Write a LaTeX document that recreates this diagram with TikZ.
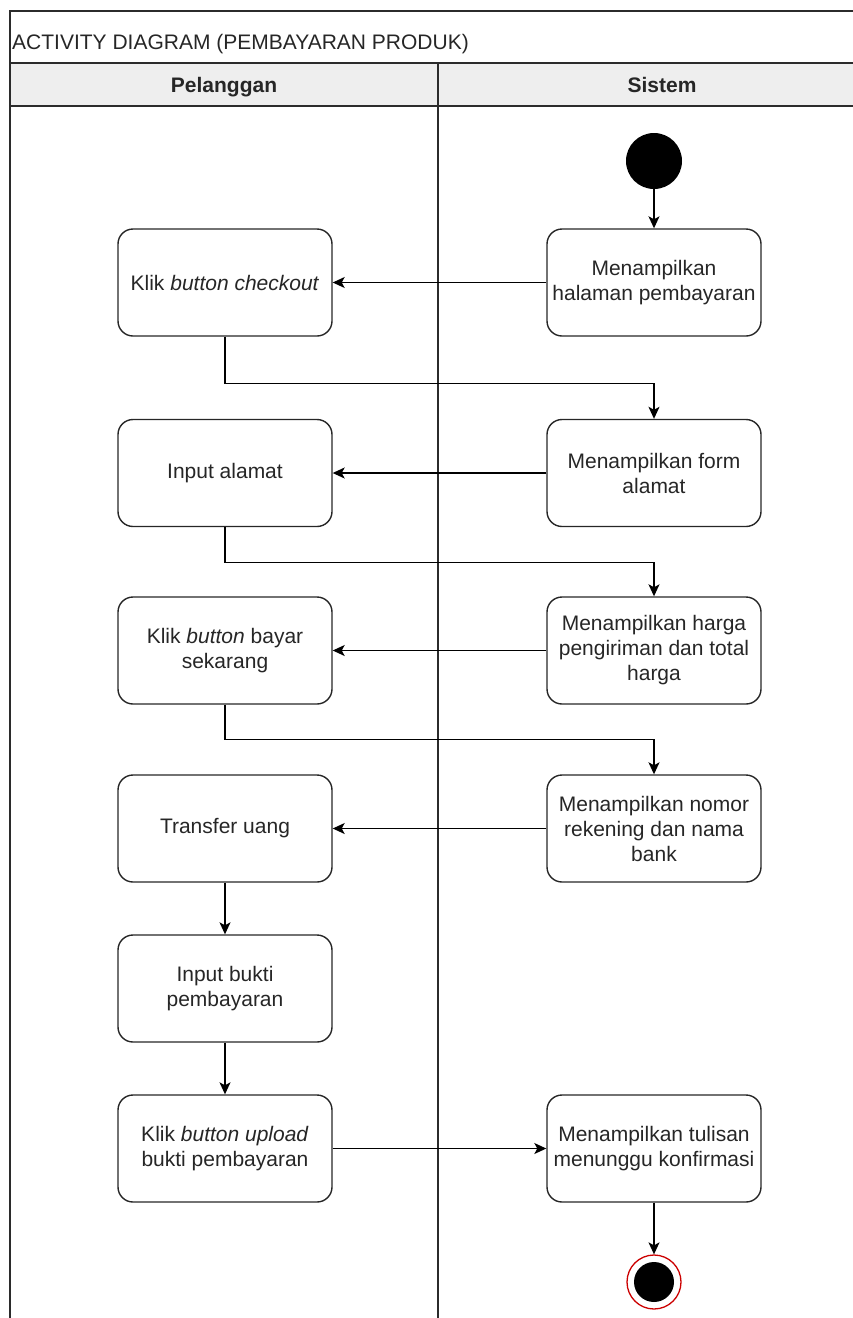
\documentclass[tikz,border=0pt]{standalone}
\usepackage{fontspec}
\setmainfont{Liberation Sans}
\usetikzlibrary{arrows.meta}

\definecolor{laneline}{HTML}{2B2B2B}
\definecolor{headfill}{HTML}{EEEEEE}
\definecolor{endred}{HTML}{CC0000}

\begin{document}
\begin{tikzpicture}[x=1pt,y=-1pt,
    act/.style={draw=black!85, line width=1.4pt, rounded corners=15pt,
      minimum width=214pt, minimum height=107pt, align=center,
      text=black!85, font=\fontsize{21}{25}\selectfont, inner sep=2pt},
    flow/.style={draw=black, line width=1.4pt,
      -{Stealth[length=12pt,width=11pt,inset=3pt]}},
    lanetext/.style={font=\fontsize{21}{25}\selectfont, text=black!85},
  ]

    \useasboundingbox (0,0) rectangle (853,1318);
    \clip (0,0) rectangle (853,1318);

    % Swimlane frame: title row, lane headers and the divider
    \fill[headfill] (10,63) rectangle (886,106);
    \draw[laneline, line width=1.2pt] (10,1340) -- (10,11) -- (886,11);
    \draw[laneline, line width=1.2pt] (10,63) -- (886,63);
    \draw[laneline, line width=1.2pt] (10,106) -- (886,106);
    \draw[laneline, line width=1.2pt] (438,63) -- (438,1340);

    \node[lanetext, anchor=base west, inner sep=0pt] (judul) at (12,49.5) {ACTIVITY DIAGRAM (PEMBAYARAN PRODUK)};
    \node[lanetext, anchor=base, font=\fontsize{21}{25}\selectfont\bfseries] (pelanggan) at (224,92) {Pelanggan};
    \node[lanetext, anchor=base, font=\fontsize{21}{25}\selectfont\bfseries] (sistem) at (662,92) {Sistem};

    % Start node
    \node[circle, fill=black, minimum size=56pt, inner sep=0pt] (mulai) at (654,161) {};

    % Actions of Pelanggan
    \node[act] (k1) at (225,282.5) {Klik \textit{button checkout}};
    \node[act] (k2) at (225,473) {Input alamat};
    \node[act] (k3) at (225,650.5) {Klik \textit{button} bayar\\sekarang};
    \node[act] (k4) at (225,828.5) {Transfer uang};
    \node[act] (k5) at (225,988.5) {Input bukti\\pembayaran};
    \node[act] (k6) at (225,1148.5) {Klik \textit{button upload}\\bukti pembayaran};

    % Actions of Sistem
    \node[act] (m1) at (654,282.5) {Menampilkan\\halaman pembayaran};
    \node[act] (m2) at (654,473) {Menampilkan form\\alamat};
    \node[act] (m3) at (654,650.5) {Menampilkan harga\\pengiriman dan total\\harga};
    \node[act] (m4) at (654,828.5) {Menampilkan nomor\\rekening dan nama\\bank};
    \node[act] (m6) at (654,1148.5) {Menampilkan tulisan\\menunggu konfirmasi};

    % End node
    \node[circle, draw=endred, line width=1.3pt, fill=white, minimum size=54pt, inner sep=0pt] (selesai) at (654,1282) {};
    \node[circle, fill=black, minimum size=40pt, inner sep=0pt] (selesaiinti) at (selesai) {};

    % Control flow
    \draw[flow] (mulai) -- (m1);
    \draw[flow] (m1) -- (k1);
    \draw[flow] (k1.south) -- ++(0,47) -| (m2.north);
    \draw[flow] (m2) -- (k2);
    \draw[flow] (k2.south) -- ++(0,35) -| (m3.north);
    \draw[flow] (m3) -- (k3);
    \draw[flow] (k3.south) -- ++(0,35) -| (m4.north);
    \draw[flow] (m4) -- (k4);
    \draw[flow] (k4) -- (k5);
    \draw[flow] (k5) -- (k6);
    \draw[flow] (k6) -- (m6);
    \draw[flow] (m6) -- (selesai);

\end{tikzpicture}
\end{document}
